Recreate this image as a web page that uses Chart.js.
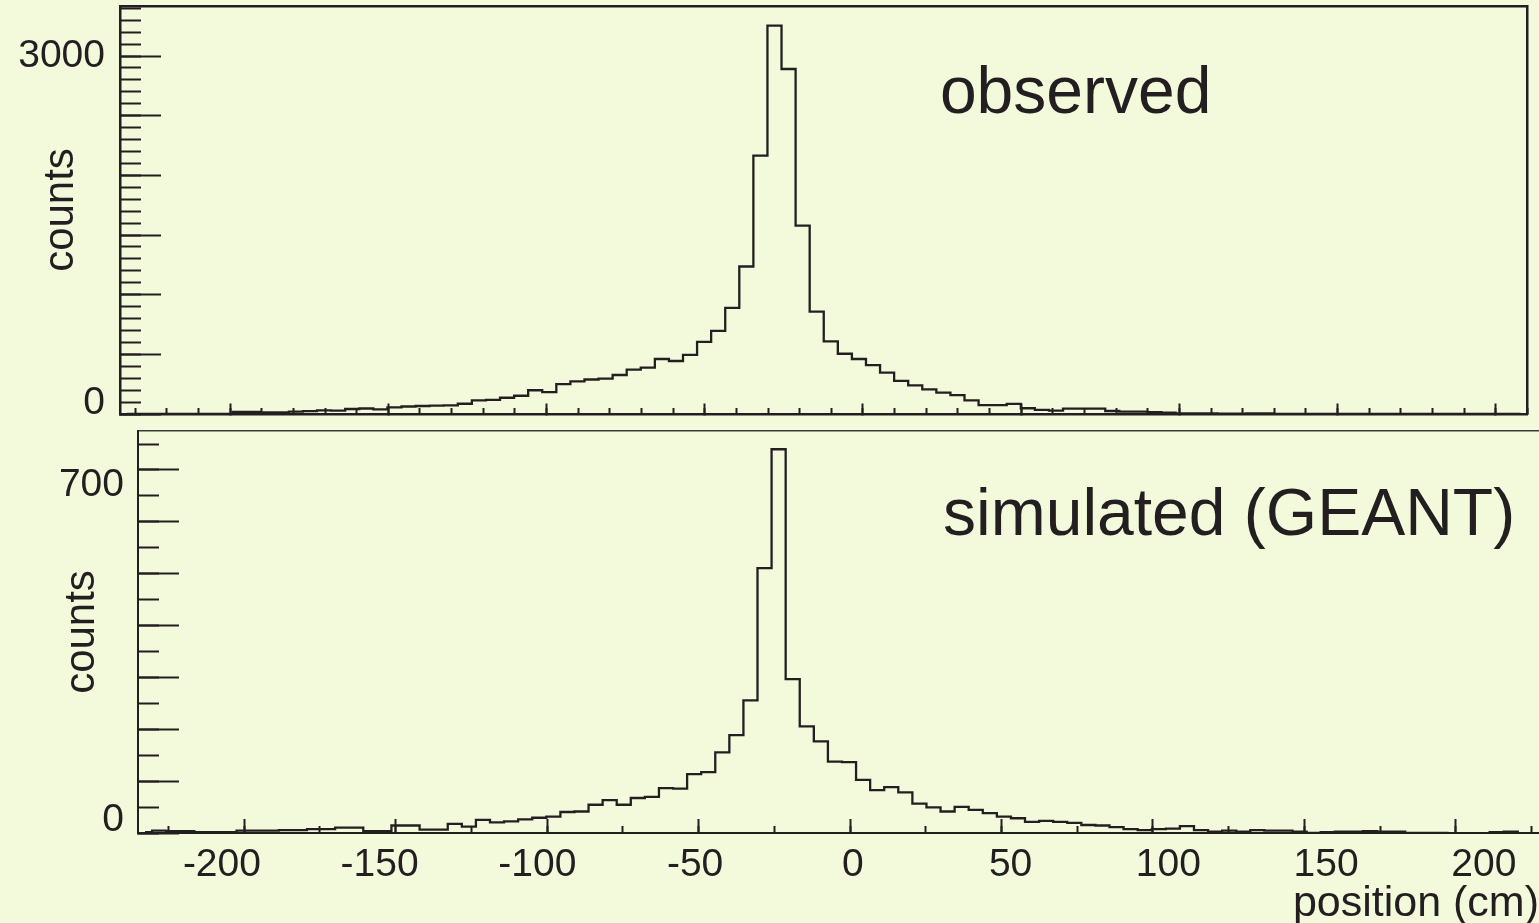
<!DOCTYPE html>
<html>
<head>
<meta charset="utf-8">
<script src="https://cdn.jsdelivr.net/npm/chart.js@4/dist/chart.umd.min.js"></script>
<style>
  html, body { margin: 0; padding: 0; width: 1539px; height: 923px; overflow: hidden; background: #F2FADB; }
  canvas { position: absolute; left: 0; top: 0; }
</style>
</head>
<body>
<canvas id="topPanel" width="1539" height="923"></canvas>
<canvas id="bottomPanel" width="1539" height="923"></canvas>
<script>
// ---------------- DATA ----------------
// Observed histogram: 100 bins, position (cm)
const observedBinLow = -234.8;
const observedBinWidth = 4.448;
const observedCounts = [
  0, 0, 0, 0, 0, 0, 0, 0, 18, 18,
  14, 14, 20, 24, 30, 28, 42, 46, 38, 56,
  63, 67, 70, 72, 86, 114, 118, 136, 153, 199,
  183, 251, 273, 289, 296, 327, 372, 388, 461, 444,
  496, 604, 696, 890, 1236, 2165, 3254, 2891, 1578, 858,
  608, 505, 461, 410, 347, 278, 240, 207, 179, 159,
  114, 75, 75, 85, 48, 34, 28, 45, 45, 45,
  25, 20, 20, 16, 11, 6, 6, 6, 2, 2,
  5, 5, 0, 0, 0, 0, 0, 0, 0, 0,
  0, 0, 0, 0, 0, 0, 0, 0, 0, 0
];

// Simulated (GEANT) histogram: 100 bins, position (cm)
const simulatedBinLow = -235;
const simulatedBinWidth = 4.647;
const simulatedCounts = [
  2, 5, 4, 4, 2, 2, 2, 5, 5, 5,
  6, 6, 8, 8, 11, 11, 4, 4, 15, 15,
  7, 7, 18, 13, 26, 21, 23, 27, 30, 32,
  41, 42, 55, 64, 55, 68, 70, 87, 86, 114,
  118, 156, 189, 256, 511, 740, 297, 206, 177, 138,
  137, 103, 83, 89, 79, 57, 50, 42, 51, 45,
  39, 32, 29, 22, 24, 22, 20, 16, 15, 12,
  8, 6, 8, 9, 14, 6, 3, 5, 3, 6,
  5, 5, 3, 1, 2, 3, 3, 4, 3, 3,
  1, 1, 1, 0, 0, 0, 2, 3, 0, 0
];

// Axis ranges and tick labels
const topXRange = [-234.8, 210];
const topYRange = [0, 3419];
const topXMajorTicks = [-200, -150, -100, -50, 0, 50, 100, 150, 200];
const topYTickLabels = [0, 3000];

const botXRange = [-235, 227.4];
const botYRange = [0, 775.7];
const botXTickLabels = [-200, -150, -100, -50, 0, 50, 100, 150, 200];
const botYTickLabels = [0, 700];

const topText = { text: 'observed', x: 24.3, y: 2522 };
const botText = { text: 'simulated (GEANT)', x: 30.7, y: 575 };

// ---------------- HELPERS ----------------
const INK = '#231F20';
const FONT = '"Liberation Sans", Arial, Helvetica, sans-serif';
Chart.defaults.font.family = FONT;

function binCenters(lo, w, counts) {
  return counts.map((c, i) => ({ x: lo + w * (i + 0.5), y: c }));
}
function multiples(min, max, step) {
  const out = [];
  for (let v = Math.ceil(min / step) * step; v <= max + 1e-9; v += step) out.push(Math.round(v * 1e6) / 1e6);
  return out;
}
function tickScale(axis, range, pos, ticks, len, border, borderColor) {
  return {
    type: 'linear', axis, min: range[0], max: range[1], position: pos,
    afterBuildTicks: s => { s.ticks = ticks.map(v => ({ value: v })); },
    ticks: { display: false },
    grid: { display: true, drawOnChartArea: false, drawTicks: len !== 0, tickLength: len,
            tickWidth: 2, tickColor: INK, color: INK, lineWidth: 1 },
    border: { display: border > 0, width: border || 1, color: borderColor || INK }
  };
}
const plainNumber = v => String(v);

const textPlugin = {
  id: 'panelText',
  afterDatasetsDraw(chart, args, opts) {
    const { ctx, scales } = chart;
    ctx.save();
    ctx.font = opts.size + 'px ' + FONT;
    ctx.fillStyle = INK;
    ctx.textAlign = 'left';
    ctx.textBaseline = 'alphabetic';
    ctx.fillText(opts.text, scales.x.getPixelForValue(opts.x), scales.y.getPixelForValue(opts.y));
    ctx.restore();
  }
};

function histDataset(points) {
  return {
    data: points, xAxisID: 'x', yAxisID: 'y',
    stepped: 'middle', borderColor: INK, borderWidth: 2.3, pointRadius: 0,
    fill: false, tension: 0, borderJoinStyle: 'miter', borderCapStyle: 'butt'
  };
}

// ---------------- TOP PANEL ----------------
new Chart(document.getElementById('topPanel'), {
  type: 'line',
  data: { datasets: [histDataset(binCenters(observedBinLow, observedBinWidth, observedCounts))] },
  options: {
    responsive: false, animation: false, events: [],
    layout: { padding: { left: 0, top: 6, right: 11.5, bottom: 509 } },
    plugins: {
      legend: { display: false }, tooltip: { enabled: false }, title: { display: false },
      panelText: { text: topText.text, x: topText.x, y: topText.y, size: 66 }
    },
    scales: {
      x: tickScale('x', topXRange, { y: 0 }, topXMajorTicks, -12, 2.5),
      xMinor: tickScale('x', topXRange, { y: 0 }, multiples(topXRange[0], topXRange[1], 10), -6, 0),
      xTop: tickScale('x', topXRange, { y: topYRange[1] }, [], 0, 2.5),
      y: tickScale('y', topYRange, { x: topXRange[0] }, multiples(0, topYRange[1], 500), -42, 2.5),
      yMinor: tickScale('y', topYRange, { x: topXRange[0] }, multiples(0, topYRange[1], 100), -21, 0),
      yRight: tickScale('y', topYRange, { x: topXRange[1] }, [], 0, 2.5),
      yLab: {
        type: 'linear', axis: 'y', position: 'left', min: -95, max: 3432,
        afterBuildTicks: s => { s.ticks = topYTickLabels.map(v => ({ value: v })); },
        afterFit: s => { s.width = 120; s.paddingTop = 0; s.paddingBottom = 0; },
        ticks: { autoSkip: false, color: INK, padding: 15, callback: plainNumber,
                 font: { family: FONT, size: 39, lineHeight: 1 } },
        grid: { display: false, drawTicks: false },
        border: { display: false },
        title: { display: true, text: 'counts', color: INK, font: { family: FONT, size: 42, lineHeight: 1 },
                 padding: { top: 40, bottom: 0 } }
      }
    }
  },
  plugins: [textPlugin]
});

// ---------------- BOTTOM PANEL ----------------
new Chart(document.getElementById('bottomPanel'), {
  type: 'line',
  data: { datasets: [histDataset(binCenters(simulatedBinLow, simulatedBinWidth, simulatedCounts))] },
  options: {
    responsive: false, animation: false, events: [],
    layout: { padding: { left: 0, top: 430.7, right: 0, bottom: 0 } },
    plugins: {
      legend: { display: false }, tooltip: { enabled: false }, title: { display: false },
      panelText: { text: botText.text, x: botText.x, y: botText.y, size: 66 }
    },
    scales: {
      x: tickScale('x', botXRange, { y: 0 }, multiples(-200, 200, 50), -15, 2),
      xMinor: tickScale('x', botXRange, { y: 0 }, multiples(botXRange[0], botXRange[1], 25), -7, 0),
      xTop: tickScale('x', botXRange, { y: botYRange[1] }, [], 0, 1.5, '#3a3a3a'),
      y: tickScale('y', botYRange, { x: botXRange[0] }, multiples(0, botYRange[1], 100), -42, 2),
      yMinor: tickScale('y', botYRange, { x: botXRange[0] }, multiples(0, botYRange[1], 50), -21, 0),
      yLab: {
        type: 'linear', axis: 'y', position: 'left', min: -27.8, max: 813.4,
        afterBuildTicks: s => { s.ticks = botYTickLabels.map(v => ({ value: v })); },
        afterFit: s => { s.width = 138; s.paddingTop = 0; s.paddingBottom = 0; },
        ticks: { autoSkip: false, color: INK, padding: 14, callback: plainNumber,
                 font: { family: FONT, size: 39, lineHeight: 1 } },
        grid: { display: false, drawTicks: false },
        border: { display: false },
        title: { display: true, text: 'counts', color: INK, font: { family: FONT, size: 42, lineHeight: 1 },
                 padding: { top: 61, bottom: 0 } }
      },
      xLab: {
        type: 'linear', axis: 'x', position: 'bottom', min: -226.6, max: 217.5,
        afterBuildTicks: s => { s.ticks = botXTickLabels.map(v => ({ value: v })); },
        afterFit: s => { s.height = 89.7; s.paddingLeft = 0; s.paddingRight = 0; },
        ticks: { autoSkip: false, maxRotation: 0, minRotation: 0, color: INK, padding: 12, callback: plainNumber,
                 font: { family: FONT, size: 39, lineHeight: 1 } },
        grid: { display: false, drawTicks: false },
        border: { display: false },
        title: { display: true, text: 'position (cm)', align: 'end', color: INK,
                 font: { family: FONT, size: 43, lineHeight: 0.9 }, padding: { top: 0, bottom: 0 } }
      }
    }
  },
  plugins: [textPlugin]
});
</script>
</body>
</html>
